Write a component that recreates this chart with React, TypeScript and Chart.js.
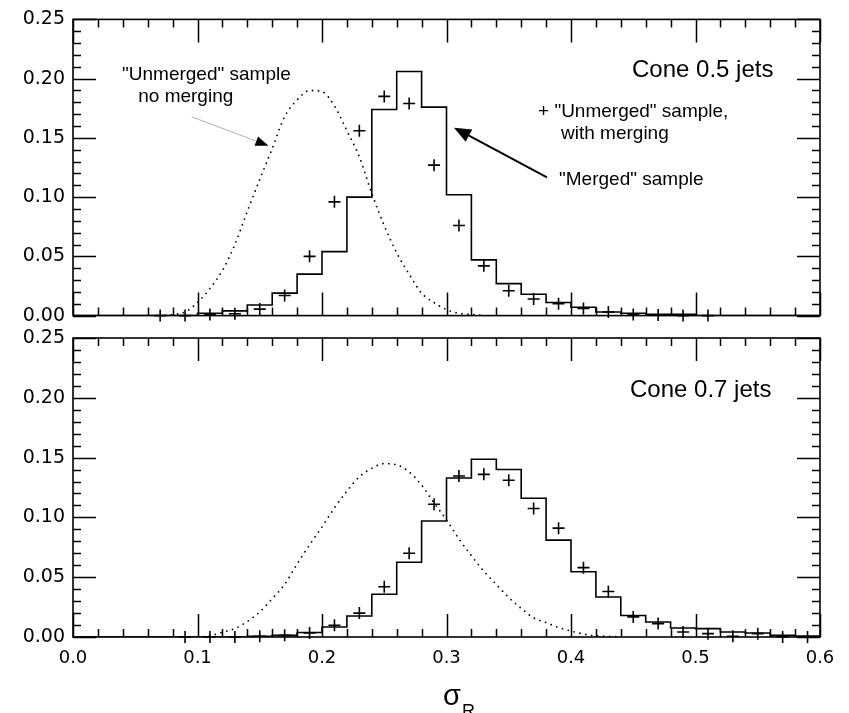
import React, { useEffect, useRef } from 'react';
import { Chart, registerables } from 'chart.js';

Chart.register(...registerables);

// ---- data ----
const binCenters = [0.01, 0.03, 0.05, 0.07, 0.09, 0.11, 0.13, 0.15, 0.17, 0.19, 0.21, 0.23, 0.25, 0.27, 0.29, 0.31, 0.33, 0.35, 0.37, 0.39, 0.41, 0.43, 0.45, 0.47, 0.49, 0.51, 0.53, 0.55, 0.57, 0.59];

// Cone 0.5 jets
const topMergedHist = [0, 0, 0, 0, 0, 0.002, 0.004, 0.009, 0.019, 0.035, 0.054, 0.100, 0.174, 0.206, 0.176, 0.102, 0.047, 0.027, 0.018, 0.011, 0.007, 0.003, 0.002, 0.001, 0.001, 0, 0, 0, 0, 0];
const topUnmergedWithMerging = [null, null, null, 0, 0, 0.001, 0.0015, 0.0055, 0.017, 0.050, 0.096, 0.156, 0.185, 0.179, 0.127, 0.076, 0.042, 0.021, 0.014, 0.010, 0.006, 0.003, 0.001, 0.0005, 0, 0, null, null, null, null];
const topCurveX = [0.06, 0.07, 0.08, 0.09, 0.10, 0.11, 0.12, 0.13, 0.14, 0.15, 0.16, 0.17, 0.18, 0.19, 0.20, 0.21, 0.22, 0.23, 0.24, 0.25, 0.26, 0.27, 0.28, 0.29, 0.30, 0.31, 0.32, 0.33];
const topNoMerging = [0, 0, 0.001, 0.003, 0.011, 0.023, 0.038, 0.060, 0.088, 0.115, 0.141, 0.168, 0.182, 0.190, 0.189, 0.177, 0.156, 0.134, 0.103, 0.076, 0.053, 0.035, 0.019, 0.011, 0.005, 0.002, 0.001, 0];

// Cone 0.7 jets
const bottomMergedHist = [0, 0, 0, 0, 0, 0, 0, 0.0005, 0.0014, 0.0037, 0.0084, 0.0176, 0.0357, 0.0625, 0.097, 0.133, 0.1486, 0.140, 0.116, 0.081, 0.0545, 0.0335, 0.018, 0.0126, 0.0075, 0.007, 0.0042, 0.0034, 0.0014, 0.0008];
const bottomUnmergedWithMerging = [null, null, null, null, 0, 0, 0, 0.0006, 0.0014, 0.0034, 0.0098, 0.020, 0.042, 0.070, 0.111, 0.1346, 0.136, 0.131, 0.1075, 0.091, 0.058, 0.038, 0.0168, 0.0112, 0.0042, 0.0028, 0.0006, 0.0028, 0, 0];
const bottomCurveX = [0.10, 0.11, 0.12, 0.13, 0.14, 0.15, 0.16, 0.17, 0.18, 0.19, 0.20, 0.21, 0.22, 0.23, 0.24, 0.25, 0.26, 0.27, 0.28, 0.29, 0.30, 0.31, 0.32, 0.33, 0.34, 0.35, 0.36, 0.37, 0.38, 0.39, 0.40, 0.41, 0.42, 0.43, 0.44];
const bottomNoMerging = [0, 0.001, 0.004, 0.007, 0.013, 0.021, 0.032, 0.044, 0.061, 0.077, 0.092, 0.108, 0.122, 0.134, 0.141, 0.145, 0.144, 0.138, 0.127, 0.112, 0.098, 0.082, 0.068, 0.055, 0.044, 0.033, 0.024, 0.016, 0.012, 0.008, 0.005, 0.0025, 0.001, 0.0005, 0];

const xTickLabels = ['0.0', '0.1', '0.2', '0.3', '0.4', '0.5', '0.6'];
const yTickLabels = ['0.00', '0.05', '0.10', '0.15', '0.20', '0.25'];

const BIN_HALF = 0.01;

function stepPoints(vals: number[]) {
  const pts = binCenters.map((c, i) => ({ x: +(c - BIN_HALF).toFixed(3), y: vals[i] }));
  pts.push({ x: +(binCenters[binCenters.length - 1] + BIN_HALF).toFixed(3), y: vals[vals.length - 1] });
  return pts;
}
function markerPoints(vals: (number | null)[]) {
  const out: { x: number; y: number }[] = [];
  binCenters.forEach((c, i) => {
    const v = vals[i];
    if (v !== null && v !== undefined) out.push({ x: c, y: v });
  });
  return out;
}
function curvePoints(xs: number[], ys: number[]) {
  return xs.map((x, i) => ({ x, y: ys[i] }));
}

type Txt = { text: string; x: number; y: number; size: number };
type Arrow = { from: [number, number]; to: [number, number]; color: string; width: number; headLen: number; headHalf: number };

function drawArrow(ctx: CanvasRenderingContext2D, x1: number, y1: number, x2: number, y2: number, a: Arrow) {
  const ang = Math.atan2(y2 - y1, x2 - x1);
  const bx = x2 - Math.cos(ang) * a.headLen;
  const by = y2 - Math.sin(ang) * a.headLen;
  ctx.strokeStyle = a.color;
  ctx.lineWidth = a.width;
  ctx.beginPath();
  ctx.moveTo(x1, y1);
  ctx.lineTo(bx, by);
  ctx.stroke();
  ctx.fillStyle = '#000';
  ctx.beginPath();
  ctx.moveTo(x2, y2);
  ctx.lineTo(bx + Math.sin(ang) * a.headHalf, by - Math.cos(ang) * a.headHalf);
  ctx.lineTo(bx - Math.sin(ang) * a.headHalf, by + Math.cos(ang) * a.headHalf);
  ctx.closePath();
  ctx.fill();
}

function framePlugin(texts: Txt[], arrows: Arrow[], showTitle: boolean) {
  return {
    id: 'frame',
    afterDraw(chart: any) {
      const { ctx, chartArea: a, scales } = chart;
      const xs = scales.x;
      const ys = scales.y;
      ctx.save();
      ctx.strokeStyle = '#000';
      ctx.lineWidth = 1.6;
      ctx.strokeRect(a.left, a.top, a.right - a.left, a.bottom - a.top);
      ctx.beginPath();
      for (let i = 0; i <= 30; i++) {
        const px = Math.round(xs.getPixelForValue(i * 0.02)) + 0.5;
        const L = i % 5 === 0 ? 23 : 8;
        ctx.moveTo(px, a.bottom);
        ctx.lineTo(px, a.bottom - L);
        ctx.moveTo(px, a.top);
        ctx.lineTo(px, a.top + L);
      }
      for (let i = 0; i <= 25; i++) {
        const py = Math.round(ys.getPixelForValue(i * 0.01)) + 0.5;
        const L = i % 5 === 0 ? 23 : 8;
        ctx.moveTo(a.left, py);
        ctx.lineTo(a.left + L, py);
        ctx.moveTo(a.right, py);
        ctx.lineTo(a.right - L, py);
      }
      ctx.lineWidth = 1.5;
      ctx.stroke();

      ctx.fillStyle = '#000';
      ctx.textAlign = 'left';
      ctx.textBaseline = 'alphabetic';
      texts.forEach((t) => {
        ctx.font = `${t.size}px "Liberation Sans", Arial, sans-serif`;
        ctx.fillText(t.text, xs.getPixelForValue(t.x), ys.getPixelForValue(t.y));
      });
      arrows.forEach((ar) => {
        drawArrow(
          ctx,
          xs.getPixelForValue(ar.from[0]),
          ys.getPixelForValue(ar.from[1]),
          xs.getPixelForValue(ar.to[0]),
          ys.getPixelForValue(ar.to[1]),
          ar
        );
      });
      if (showTitle) {
        const cx = xs.getPixelForValue(0.2972);
        ctx.font = '29px "Liberation Sans", Arial, sans-serif';
        ctx.fillText('σ', cx, a.bottom + 68);
        const w = ctx.measureText('σ').width;
        ctx.font = '18px "Liberation Sans", Arial, sans-serif';
        ctx.fillText('R', cx + w + 1, a.bottom + 80);
      }
      ctx.restore();
    },
  };
}

function buildConfig(
  hist: number[],
  markers: (number | null)[],
  cx: number[],
  cy: number[],
  opts: { padTop: number; xAxisHeight: number; showXLabels: boolean; texts: Txt[]; arrows: Arrow[]; title: boolean }
): any {
  return {
    type: 'line',
    data: {
      datasets: [
        {
          label: '"Merged" sample',
          data: stepPoints(hist),
          stepped: 'before',
          borderColor: '#000',
          borderWidth: 1.6,
          pointRadius: 0,
          fill: false,
        },
        {
          label: '"Unmerged" sample, with merging',
          data: markerPoints(markers),
          showLine: false,
          pointStyle: 'cross',
          pointRadius: 6,
          pointBorderWidth: 1.6,
          borderColor: '#000',
          backgroundColor: '#000',
          clip: false,
        },
        {
          label: '"Unmerged" sample no merging',
          data: curvePoints(cx, cy),
          borderColor: '#000',
          borderWidth: 1.8,
          borderDash: [0, 6],
          borderCapStyle: 'round',
          pointRadius: 0,
          cubicInterpolationMode: 'monotone',
          fill: false,
        },
      ],
    },
    options: {
      responsive: false,
      animation: false,
      events: [],
      layout: { padding: { top: opts.padTop, right: 29, left: 0, bottom: 0 } },
      plugins: { legend: { display: false }, tooltip: { enabled: false } },
      scales: {
        x: {
          type: 'linear',
          min: 0,
          max: 0.6,
          grid: { display: false, drawTicks: false },
          border: { display: false },
          ticks: {
            display: opts.showXLabels,
            stepSize: 0.1,
            autoSkip: false,
            maxRotation: 0,
            padding: 11,
            color: '#000',
            font: { family: '"DejaVu Sans", sans-serif', size: 18 },
            callback: (v: number) => xTickLabels[Math.round(v * 10)] ?? '',
          },
          afterFit: (s: any) => {
            s.height = opts.xAxisHeight;
          },
        },
        y: {
          type: 'linear',
          min: 0,
          max: 0.25,
          grid: { display: false, drawTicks: false },
          border: { display: false },
          ticks: {
            stepSize: 0.05,
            autoSkip: false,
            padding: 8,
            color: '#000',
            font: { family: '"DejaVu Sans", sans-serif', size: 19 },
            callback: (v: number) => yTickLabels[Math.round(v * 20)] ?? '',
          },
          afterFit: (s: any) => {
            s.width = 73;
          },
        },
      },
    },
    plugins: [framePlugin(opts.texts, opts.arrows, opts.title)],
  };
}

const topTexts: Txt[] = [
  { text: '"Unmerged" sample', x: 0.0394, y: 0.1988, size: 19 },
  { text: 'no merging', x: 0.0524, y: 0.1805, size: 19 },
  { text: 'Cone 0.5 jets', x: 0.449, y: 0.2016, size: 24 },
  { text: '+ "Unmerged" sample,', x: 0.3735, y: 0.1678, size: 19 },
  { text: 'with merging', x: 0.392, y: 0.149, size: 19 },
  { text: '"Merged" sample', x: 0.3904, y: 0.1102, size: 19 },
];
const topArrows: Arrow[] = [
  { from: [0.0953, 0.1678], to: [0.157, 0.1434], color: '#b0b0b0', width: 1, headLen: 13, headHalf: 5 },
  { from: [0.3807, 0.1167], to: [0.306, 0.1586], color: '#000', width: 2, headLen: 17, headHalf: 7 },
];
const bottomTexts: Txt[] = [{ text: 'Cone 0.7 jets', x: 0.4474, y: 0.2007, size: 24 }];

export default function App() {
  const topRef = useRef<HTMLCanvasElement>(null);
  const botRef = useRef<HTMLCanvasElement>(null);

  useEffect(() => {
    const c1 = new Chart(
      topRef.current as HTMLCanvasElement,
      buildConfig(topMergedHist, topUnmergedWithMerging, topCurveX, topNoMerging, {
        padTop: 15,
        xAxisHeight: 19,
        showXLabels: false,
        texts: topTexts,
        arrows: topArrows,
        title: false,
      })
    );
    const c2 = new Chart(
      botRef.current as HTMLCanvasElement,
      buildConfig(bottomMergedHist, bottomUnmergedWithMerging, bottomCurveX, bottomNoMerging, {
        padTop: 20,
        xAxisHeight: 76,
        showXLabels: true,
        texts: bottomTexts,
        arrows: [],
        title: true,
      })
    );
    return () => {
      c1.destroy();
      c2.destroy();
    };
  }, []);

  return (
    <div style={{ position: 'absolute', left: 0, top: 0, width: 849, height: 713, background: '#fff' }}>
      <canvas ref={topRef} width={849} height={335} style={{ position: 'absolute', left: 0, top: 0 }} />
      <canvas ref={botRef} width={849} height={395} style={{ position: 'absolute', left: 0, top: 318 }} />
    </div>
  );
}
